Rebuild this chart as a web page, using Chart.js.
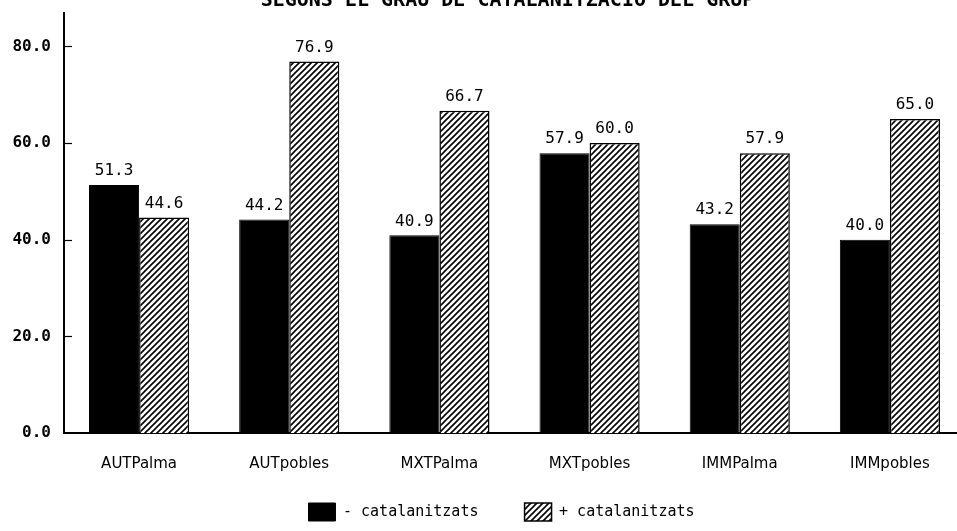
<!DOCTYPE html>
<html>
<head>
<meta charset="utf-8">
<script src="https://cdn.jsdelivr.net/npm/chart.js@4.4.1/dist/chart.umd.min.js"></script>
<style>
  html, body { margin: 0; padding: 0; background: #fff; overflow: hidden; width: 957px; height: 531px; }
  #wrap { position: absolute; left: 0; top: -10px; }
</style>
</head>
<body>
<div id="wrap"><canvas id="myChart" width="975" height="541"></canvas></div>
<script>
// dades llegides del gràfic
var categories = ['AUTPalma', 'AUTpobles', 'MXTPalma', 'MXTpobles', 'IMMPalma', 'IMMpobles'];
var menysCatalanitzats = [51.3, 44.2, 40.9, 57.9, 43.2, 40.0];
var mesCatalanitzats = [44.6, 76.9, 66.7, 60.0, 57.9, 65.0];
var yTicks = [0, 20, 40, 60, 80];
var seriesLabels = ['- catalanitzats    ', '+ catalanitzats'];
var titol = 'SEGONS EL GRAU DE CATALANITZACIÓ DEL GRUP';

// trama ratllada per a la segona sèrie
function makeHatch() {
    var pc = document.createElement('canvas');
    pc.width = 6;
    pc.height = 6;
    var c = pc.getContext('2d');
    c.fillStyle = '#fff';
    c.fillRect(0, 0, 6, 6);
    c.strokeStyle = '#000';
    c.lineWidth = 1.6;
    c.beginPath();
    c.moveTo(0, 6); c.lineTo(6, 0);
    c.moveTo(-1, 1); c.lineTo(1, -1);
    c.moveTo(5, 7); c.lineTo(7, 5);
    c.stroke();
    return c.createPattern(pc, 'repeat');
}

// etiquetes de valor damunt de cada barra
var valueLabels = {
    id: 'valueLabels',
    afterDatasetsDraw: function(chart) {
        var ctx = chart.ctx;
        ctx.save();
        ctx.fillStyle = '#000';
        ctx.font = '16px "DejaVu Sans Mono"';
        ctx.textAlign = 'center';
        ctx.textBaseline = 'middle';
        chart.data.datasets.forEach(function(ds, di) {
            var meta = chart.getDatasetMeta(di);
            meta.data.forEach(function(bar, i) {
                ctx.fillText(ds.data[i].toFixed(1), bar.x, bar.y - 14);
            });
        });
        ctx.restore();
    }
};

// petites marques cap a dins de l'eix Y
var innerTicks = {
    id: 'innerTicks',
    afterDraw: function(chart) {
        var ctx = chart.ctx;
        var y = chart.scales.y;
        ctx.save();
        ctx.strokeStyle = '#000';
        ctx.lineWidth = 1.2;
        yTicks.forEach(function(v) {
            if (v === 0) return;
            var py = Math.round(y.getPixelForValue(v)) + 0.5;
            ctx.beginPath();
            ctx.moveTo(chart.chartArea.left, py);
            ctx.lineTo(chart.chartArea.left + 8, py);
            ctx.stroke();
        });
        ctx.restore();
    }
};

// títol i llegenda centrats aprox. sobre l'àrea del gràfic
var centerOnArea = {
    id: 'centerOnArea',
    afterLayout: function(chart) {
        var a = chart.chartArea;
        if (chart.titleBlock) {
            chart.titleBlock.left = a.left;
            chart.titleBlock.right = a.right - 14;
        }
        if (chart.legend) {
            chart.legend.left = a.left - 26;
            chart.legend.right = a.right;
        }
    }
};

var data = {
    labels: categories,
    datasets: [{
        label: seriesLabels[0],
        data: menysCatalanitzats,
        backgroundColor: '#000',
        borderColor: '#000',
        borderWidth: 1
    }, {
        label: seriesLabels[1],
        data: mesCatalanitzats,
        backgroundColor: makeHatch(),
        borderColor: '#000',
        borderWidth: 1.5
    }]
};

var options = {
    responsive: false,
    animation: false,
    datasets: {
        bar: { categoryPercentage: 0.667, barPercentage: 1.0 }
    },
    layout: { padding: { left: 0, right: 10, top: 0, bottom: 0 } },
    plugins: {
        title: {
            display: true,
            text: titol,
            color: '#000',
            font: { family: '"DejaVu Sans Mono"', size: 20, weight: 'bold', lineHeight: 1.0 },
            padding: { top: 0, bottom: 2 }
        },
        legend: {
            position: 'bottom',
            labels: {
                color: '#000',
                boxWidth: 27,
                boxHeight: 18,
                padding: 10,
                font: { family: '"DejaVu Sans Mono"', size: 15 }
            }
        },
        tooltip: { enabled: false }
    },
    scales: {
        x: {
            grid: { display: false, drawTicks: false },
            border: { color: '#000', width: 2 },
            ticks: {
                color: '#000',
                padding: 22,
                font: { family: '"DejaVu Sans"', size: 15 }
            },
            afterFit: function(scale) { scale.height = 60; }
        },
        y: {
            min: 0,
            max: 87,
            grid: { display: false, drawTicks: false },
            border: { color: '#000', width: 2 },
            afterBuildTicks: function(scale) {
                scale.ticks = yTicks.map(function(v) { return { value: v }; });
            },
            afterFit: function(scale) { scale.width = 64; },
            ticks: {
                color: '#000',
                padding: 13,
                font: { family: '"DejaVu Sans Mono"', size: 16, weight: 'bold' },
                callback: function(v) { return Number(v).toFixed(1); }
            }
        }
    }
};

var ctx = document.getElementById('myChart').getContext('2d');
var myChart = new Chart(ctx, {
    type: 'bar',
    data: data,
    options: options,
    plugins: [valueLabels, innerTicks, centerOnArea]
});
</script>
</body>
</html>
